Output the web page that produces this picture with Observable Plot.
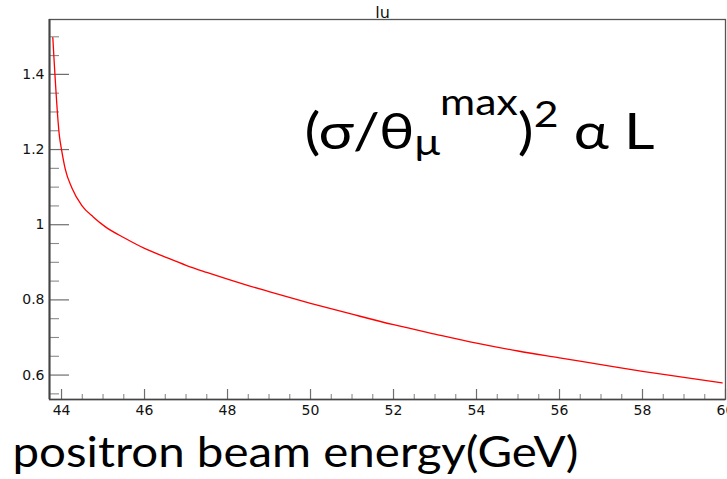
<!DOCTYPE html>
<html>
<head>
<meta charset="utf-8">
<script src="https://cdn.jsdelivr.net/npm/d3@7"></script>
<script src="https://cdn.jsdelivr.net/npm/@observablehq/plot@0.6"></script>
<style>
  html, body { margin: 0; padding: 0; background: #fff; }
  #chart svg { display: block; }
</style>
</head>
<body>
<div id="chart"></div>
<script>
// ---- data ----
const energy = [43.79, 43.95, 44.0, 44.09, 44.25, 44.49, 44.77, 45.05, 45.53, 46.0, 46.5, 47.0, 47.5, 48.0, 48.5, 49.0, 50.0, 51.0, 52.0, 53.0, 54.0, 55.0, 56.0, 57.0, 58.0, 59.0, 59.92];
const ratio  = [1.498, 1.235, 1.200, 1.148, 1.098, 1.051, 1.020, 0.995, 0.964, 0.937, 0.914, 0.892, 0.873, 0.855, 0.838, 0.822, 0.791, 0.762, 0.734, 0.709, 0.685, 0.664, 0.646, 0.628, 0.610, 0.594, 0.579];

const xDomain = [43.71, 60.0];
const yDomain = [0.535, 1.546];

const xMajorTicks = [44, 46, 48, 50, 52, 54, 56, 58, 60];
const xMinorTicks = [44.5, 45, 45.5, 46.5, 47, 47.5, 48.5, 49, 49.5, 50.5, 51, 51.5, 52.5, 53, 53.5, 54.5, 55, 55.5, 56.5, 57, 57.5, 58.5, 59, 59.5];
const yMajorTicks = [0.6, 0.8, 1, 1.2, 1.4];
const yMinorTicks = [0.55, 0.65, 0.7, 0.75, 0.85, 0.9, 0.95, 1.05, 1.1, 1.15, 1.25, 1.3, 1.35, 1.45, 1.5];

const titleText = "lu";
const xTitleText = "positron beam energy(GeV)";

const points = energy.map((e, i) => ({energy: e, ratio: ratio[i]}));

const W = 727, H = 479;
const mL = 49, mR = 2, mT = 19, mB = 80;
const plotW = W - mL - mR, plotH = H - mT - mB;

const chart = Plot.plot({
  width: W,
  height: H,
  marginLeft: mL,
  marginRight: mR,
  marginTop: mT,
  marginBottom: mB,
  style: {background: "#fff", fontFamily: "DejaVu Sans", fontSize: "14px", color: "#111"},
  x: {domain: xDomain, ticks: xMajorTicks, tickSize: 0, tickPadding: 6, tickFormat: d => String(d), label: null},
  y: {domain: yDomain, ticks: yMajorTicks, tickSize: 0, tickPadding: 5, tickFormat: d => String(d), label: null},
  marks: [
    // inward ROOT-style ticks
    Plot.tickY(yMajorTicks, {y: d => d, insetRight: plotW - 20, stroke: "#6e6e6e", strokeWidth: 1.2}),
    Plot.tickY(yMinorTicks, {y: d => d, insetRight: plotW - 10, stroke: "#8a8a8a", strokeWidth: 1.1}),
    Plot.tickX(xMajorTicks, {x: d => d, insetTop: plotH - 10, stroke: "#6e6e6e", strokeWidth: 1.2}),
    Plot.tickX(xMinorTicks, {x: d => d, insetTop: plotH - 5, stroke: "#8a8a8a", strokeWidth: 1.1}),
    Plot.frame({stroke: "#555", strokeWidth: 1.3}),
    Plot.ruleX([xDomain[0]], {stroke: "#444", strokeWidth: 2}),
    Plot.ruleY([yDomain[0]], {stroke: "#444", strokeWidth: 1.6}),
    Plot.line(points, {x: "energy", y: "ratio", stroke: "#ff0000", strokeWidth: 1.3, curve: "monotone-x"}),
    Plot.text([titleText], {frameAnchor: "top", dx: -5, dy: -2, lineAnchor: "bottom", fontSize: 16, fontFamily: "DejaVu Sans", fill: "#111"}),
    Plot.text([xTitleText], {frameAnchor: "bottom-left", dx: -37, dy: 67, textAnchor: "start", lineAnchor: "bottom", fontSize: 42, fontFamily: "Lato", fill: "#000", className: "xtitle"}),
    Plot.text(["annot"], {frameAnchor: "top-left", dx: 255, dy: 129, textAnchor: "start", lineAnchor: "bottom", fontSize: 50, fontFamily: "Lato", fill: "#000", className: "annot"})
  ]
});

document.getElementById("chart").appendChild(chart);

// stretch the big x title to the reference width
d3.select(chart).selectAll(".xtitle text")
  .attr("textLength", 566)
  .attr("lengthAdjust", "spacingAndGlyphs");

// build the formula annotation with sub/superscripts
d3.select(chart).selectAll(".annot text").each(function() {
  const t = d3.select(this);
  t.text(null);
  const parts = [
    {s: "(σ/θ", size: null, dy: 0},
    {s: "μ", size: 36, dy: 6},
    {s: "max", size: 36, dy: -40},
    {s: ")", size: null, dy: 34},
    {s: "2", size: 36, dy: -22},
    {s: " α L", size: null, dy: 22}
  ];
  for (const p of parts) {
    const ts = t.append("tspan").text(p.s);
    if (p.size) ts.attr("font-size", p.size);
    if (p.dy) ts.attr("dy", p.dy);
  }
  t.attr("textLength", 350).attr("lengthAdjust", "spacingAndGlyphs");
});
</script>
</body>
</html>
